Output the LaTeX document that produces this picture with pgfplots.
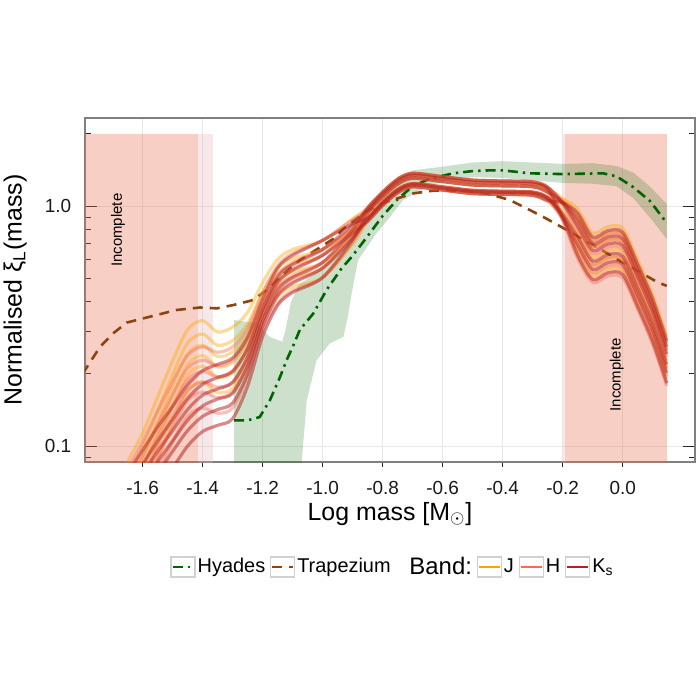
\documentclass[border=0pt]{standalone}
\usepackage{pgfplots}
\pgfplotsset{compat=1.18}
\usepackage{pgfplotstable}
\usepackage{fontspec}
\setmainfont{Liberation Sans}
\definecolor{jcol}{RGB}{255,165,0}
\definecolor{hcol}{RGB}{246,106,86}
\definecolor{kcol}{RGB}{178,34,34}
\definecolor{hyad}{RGB}{0,100,0}
\definecolor{trap}{RGB}{139,69,19}
\definecolor{incomp}{RGB}{232,110,75}
\definecolor{incompl}{RGB}{225,175,180}

\pgfplotstableread{
x c1 c2 c3 c4 c5 c6
-1.65 0.048 0.056 0.062 0.068 0.076 0.086
-1.60 0.063 0.073 0.081 0.089 0.099 0.113
-1.55 0.089 0.103 0.114 0.126 0.140 0.160
-1.50 0.126 0.146 0.162 0.179 0.199 0.226
-1.45 0.170 0.198 0.219 0.242 0.269 0.306
-1.40 0.185 0.215 0.238 0.263 0.293 0.333
-1.35 0.167 0.194 0.214 0.236 0.263 0.299
-1.30 0.174 0.202 0.223 0.247 0.275 0.313
-1.25 0.225 0.254 0.274 0.298 0.323 0.361
-1.20 0.336 0.368 0.388 0.416 0.440 0.480
-1.15 0.420 0.460 0.485 0.520 0.550 0.600
-1.10 0.462 0.506 0.534 0.572 0.605 0.660
-1.00 0.504 0.552 0.582 0.624 0.660 0.720
-0.90 0.694 0.768 0.757 0.803 0.803 0.885
-0.85 0.865 0.966 0.892 0.938 0.883 0.984
-0.80 1.006 1.124 1.038 1.091 1.027 1.145
-0.75 1.137 1.271 1.174 1.234 1.162 1.295
-0.70 1.203 1.344 1.242 1.306 1.229 1.370
-0.60 1.166 1.302 1.203 1.265 1.190 1.327
-0.50 1.128 1.260 1.164 1.224 1.152 1.284
-0.40 1.119 1.250 1.154 1.214 1.142 1.273
-0.30 1.109 1.239 1.145 1.204 1.133 1.263
-0.25 1.053 1.176 1.086 1.142 1.075 1.198
-0.20 0.899 1.075 0.949 1.024 1.068 0.921
-0.15 0.715 0.915 0.774 0.857 0.974 0.649
-0.10 0.568 0.726 0.614 0.680 0.773 0.515
-0.05 0.603 0.772 0.653 0.723 0.821 0.547
0.00 0.594 0.761 0.643 0.712 0.809 0.539
0.05 0.438 0.561 0.474 0.525 0.596 0.397
0.10 0.313 0.400 0.338 0.375 0.426 0.284
0.147 0.210 0.269 0.227 0.252 0.286 0.191
}\Jtab

\pgfplotstableread{
x c1 c2 c3 c4 c5 c6
-1.65 0.044 0.052 0.057 0.063 0.070 0.080
-1.60 0.058 0.067 0.074 0.082 0.091 0.104
-1.55 0.078 0.090 0.100 0.110 0.123 0.140
-1.50 0.104 0.120 0.133 0.147 0.164 0.186
-1.45 0.133 0.155 0.171 0.189 0.211 0.239
-1.40 0.144 0.168 0.185 0.205 0.228 0.259
-1.35 0.137 0.159 0.176 0.194 0.216 0.246
-1.30 0.144 0.168 0.185 0.205 0.228 0.259
-1.25 0.194 0.218 0.235 0.256 0.278 0.310
-1.20 0.302 0.331 0.349 0.374 0.396 0.432
-1.15 0.395 0.432 0.456 0.489 0.517 0.564
-1.10 0.445 0.488 0.514 0.551 0.583 0.636
-1.00 0.504 0.552 0.582 0.624 0.660 0.720
-0.90 0.706 0.757 0.753 0.823 0.796 0.878
-0.85 0.892 0.938 0.883 0.984 0.865 0.966
-0.80 1.038 1.091 1.027 1.145 1.006 1.124
-0.75 1.174 1.234 1.162 1.295 1.137 1.271
-0.70 1.242 1.306 1.229 1.370 1.203 1.344
-0.60 1.203 1.265 1.190 1.327 1.166 1.302
-0.50 1.164 1.224 1.152 1.284 1.128 1.260
-0.40 1.154 1.214 1.142 1.273 1.119 1.250
-0.30 1.145 1.204 1.133 1.263 1.109 1.239
-0.25 1.086 1.142 1.075 1.198 1.053 1.176
-0.20 1.031 0.871 0.879 1.047 0.903 1.004
-0.15 0.908 0.606 0.667 0.854 0.722 0.799
-0.10 0.721 0.481 0.530 0.678 0.573 0.634
-0.05 0.766 0.511 0.563 0.720 0.609 0.674
0.00 0.755 0.503 0.555 0.710 0.600 0.664
0.05 0.556 0.371 0.409 0.523 0.442 0.490
0.10 0.397 0.265 0.292 0.373 0.316 0.350
0.147 0.267 0.178 0.196 0.251 0.212 0.235
}\Htab

\pgfplotstableread{
x c1 c2 c3 c4 c5 c6
-1.65 0.043 0.050 0.055 0.061 0.068 0.077
-1.60 0.053 0.062 0.068 0.076 0.084 0.096
-1.55 0.067 0.077 0.086 0.095 0.105 0.120
-1.50 0.081 0.095 0.105 0.116 0.129 0.146
-1.45 0.100 0.116 0.128 0.142 0.158 0.180
-1.40 0.115 0.133 0.147 0.163 0.181 0.206
-1.35 0.122 0.142 0.157 0.173 0.193 0.219
-1.30 0.130 0.151 0.166 0.184 0.205 0.233
-1.25 0.178 0.200 0.216 0.235 0.255 0.285
-1.20 0.286 0.313 0.330 0.354 0.374 0.408
-1.15 0.386 0.423 0.446 0.478 0.506 0.552
-1.10 0.437 0.478 0.504 0.541 0.572 0.624
-1.00 0.504 0.552 0.582 0.624 0.660 0.720
-0.90 0.725 0.733 0.796 0.772 0.839 0.846
-0.85 0.938 0.883 0.984 0.865 0.966 0.892
-0.80 1.091 1.027 1.145 1.006 1.124 1.038
-0.75 1.234 1.162 1.295 1.137 1.271 1.174
-0.70 1.306 1.229 1.370 1.203 1.344 1.242
-0.60 1.265 1.190 1.327 1.166 1.302 1.203
-0.50 1.224 1.152 1.284 1.128 1.260 1.164
-0.40 1.214 1.142 1.273 1.119 1.250 1.154
-0.30 1.204 1.133 1.263 1.109 1.239 1.145
-0.25 1.142 1.075 1.198 1.053 1.176 1.086
-0.20 1.039 0.926 1.029 1.034 0.897 0.897
-0.15 0.880 0.744 0.824 0.936 0.624 0.688
-0.10 0.699 0.591 0.654 0.743 0.495 0.546
-0.05 0.743 0.628 0.695 0.790 0.527 0.581
0.00 0.732 0.618 0.685 0.778 0.519 0.572
0.05 0.539 0.456 0.505 0.573 0.382 0.421
0.10 0.385 0.326 0.361 0.410 0.273 0.301
0.147 0.259 0.219 0.242 0.275 0.183 0.202
}\Ktab

\begin{document}
\begin{tikzpicture}
\useasboundingbox (-42.5bp,-119bp) rectangle (307.5bp,231bp);
\begin{axis}[
  at={(0,0)}, anchor=south west,
  scale only axis, width=305bp, height=172bp,
  ymode=log,
  xmin=-1.792, xmax=0.241, ymin=0.0858, ymax=2.33,
  axis line style={draw=black!50, line width=0.6bp},
  xtick={-1.6,-1.4,-1.2,-1,-0.8,-0.6,-0.4,-0.2,0},
  xticklabels={-1.6,-1.4,-1.2,-1.0,-0.8,-0.6,-0.4,-0.2,0.0},
  ytick={0.1,1}, yticklabels={0.1,1.0},
  minor ytick={0.09,0.2,0.3,0.4,0.5,0.6,0.7,0.8,0.9,2},
  xtick pos=left, ytick pos=both,
  xtick align=outside, ytick align=inside,
  major tick length=6bp, minor tick length=3bp,
  xtick style={/pgfplots/major tick length=2.5bp},
  tick style={color=black!85, line width=0.5bp},
  grid=major, major grid style={color=black!9, line width=0.5bp},
  tick label style={font=\fontsize{9.5}{11}\selectfont, color=black!90},
  yticklabel style={xshift=-3.4bp},
  xlabel={Log mass [M$_\odot$]},
  ylabel={Normalised ξ\textsubscript{L}(mass)},
  label style={font=\fontsize{12.5}{15}\selectfont},
  xlabel style={at={(axis description cs:0.5,-0.1686)}, anchor=base},
  ylabel style={at={(axis description cs:-0.1039,0.5)}, anchor=base},
  legend columns=6,
  legend style={at={(axis description cs:0.505,-0.305)}, anchor=center,
    draw=none, fill=none, font=\fontsize{10}{12}\selectfont,
    /tikz/every even column/.append style={column sep=1.2bp},
    nodes={inner sep=1.1bp}},
  legend image code/.code={
    \draw[draw=black!18, fill=white, solid, line width=0.6bp] (0bp,-5bp) rectangle (12bp,5bp);
    \draw[#1] (0.8bp,0bp) -- (11.2bp,0bp);
  },
]
% incomplete regions
\addplot[fill=incomp, fill opacity=0.33, draw=none, forget plot] coordinates {(-1.9,0.05) (-1.414,0.05) (-1.414,2.0) (-1.9,2.0)} --cycle;
\addplot[fill=incompl, fill opacity=0.3, draw=none, forget plot] coordinates {(-1.414,0.05) (-1.367,0.05) (-1.367,2.0) (-1.414,2.0)} --cycle;
\addplot[fill=incompl, fill opacity=0.3, draw=none, forget plot] coordinates {(-0.199,0.05) (-0.192,0.05) (-0.192,2.0) (-0.199,2.0)} --cycle;
\addplot[fill=incomp, fill opacity=0.33, draw=none, forget plot] coordinates {(-0.192,0.05) (0.147,0.05) (0.147,2.0) (-0.192,2.0)} --cycle;
% Hyades uncertainty band
\addplot[fill=hyad, fill opacity=0.2, draw=none, forget plot] coordinates {
(-1.295,0.05) (-1.295,0.335) (-1.22,0.325) (-1.176,0.285) (-1.135,0.272) (-1.125,0.30) (-1.105,0.40) (-1.08,0.47) (-1.0,0.55) (-0.95,0.64) (-0.9,0.76) (-0.85,0.92) (-0.8,1.12) (-0.75,1.33) (-0.7,1.41) (-0.6,1.46) (-0.5,1.52) (-0.4,1.54) (-0.3,1.52) (-0.2,1.50) (-0.1,1.51) (-0.02,1.47) (0.035,1.38) (0.09,1.21) (0.147,1.02)
(0.147,0.73) (0.09,0.90) (0.035,1.08) (-0.02,1.21) (-0.1,1.24) (-0.2,1.25) (-0.3,1.28) (-0.4,1.31) (-0.5,1.32) (-0.6,1.27) (-0.653,1.2) (-0.732,1.06) (-0.776,0.90) (-0.82,0.772) (-0.882,0.596) (-0.903,0.434) (-0.916,0.346) (-0.931,0.285) (-0.976,0.268) (-1.02,0.228) (-1.053,0.155) (-1.07,0.085) (-1.075,0.05)
} --cycle;
% Hyades
\addplot[color=hyad, line width=1.3bp, dash pattern=on 5bp off 2.5bp on 1.2bp off 2.5bp] coordinates {
(-1.295,0.128) (-1.25,0.128) (-1.21,0.132) (-1.176,0.155) (-1.142,0.194) (-1.12,0.228) (-1.098,0.262) (-1.076,0.305) (-1.031,0.357) (-0.987,0.447) (-0.937,0.55) (-0.903,0.615) (-0.85,0.75) (-0.8,0.91) (-0.75,1.07) (-0.7,1.21) (-0.65,1.29) (-0.609,1.33) (-0.565,1.37) (-0.5,1.40) (-0.44,1.41) (-0.4,1.41) (-0.31,1.37) (-0.2,1.36) (-0.065,1.37) (-0.02,1.33) (0.035,1.20) (0.091,1.05) (0.147,0.85)
};
% Trapezium
\addplot[color=trap, line width=1.3bp, dash pattern=on 5bp off 3.5bp] coordinates {
(-1.80,0.20) (-1.742,0.259) (-1.698,0.295) (-1.653,0.327) (-1.576,0.346) (-1.487,0.369) (-1.409,0.378) (-1.353,0.375) (-1.298,0.387) (-1.231,0.406) (-1.187,0.447) (-1.12,0.535) (-1.076,0.596) (-1.02,0.66) (-0.965,0.73) (-0.92,0.83) (-0.865,0.93) (-0.8,1.03) (-0.698,1.13) (-0.631,1.16) (-0.587,1.165) (-0.5,1.15) (-0.442,1.12) (-0.376,1.06) (-0.32,0.978) (-0.265,0.902) (-0.215,0.833) (-0.1,0.69) (0.0,0.583) (0.113,0.484) (0.147,0.465)
};
\addlegendimage{empty legend}
\addlegendimage{color=jcol, line width=1.1bp}
\addlegendimage{color=hcol, line width=1.1bp}
\addlegendimage{color=kcol, line width=1.1bp}
% band curves
\foreach \c in {c1,c2,c3,c4,c5,c6} {
  \addplot[color=jcol, line width=1.6bp, draw opacity=0.4, smooth, forget plot] table[x=x, y=\c] {\Jtab};
}
\foreach \c in {c1,c2,c3,c4,c5,c6} {
  \addplot[color=hcol, line width=1.6bp, draw opacity=0.42, smooth, forget plot] table[x=x, y=\c] {\Htab};
}
\foreach \c in {c1,c2,c3,c4,c5,c6} {
  \addplot[color=kcol, line width=1.6bp, draw opacity=0.52, smooth, forget plot] table[x=x, y=\c] {\Ktab};
}
\node[rotate=90, font=\fontsize{7.5}{9}\selectfont] at (axis cs:-1.682,0.794) {Incomplete};
\node[rotate=90, font=\fontsize{7.5}{9}\selectfont] at (axis cs:-0.02,0.198) {Incomplete};
\legend{Hyades,Trapezium,{\hspace{6bp}\fontsize{12}{14}\selectfont Band:},J,H,K\textsubscript{s}}
\end{axis}
\end{tikzpicture}
\end{document}
